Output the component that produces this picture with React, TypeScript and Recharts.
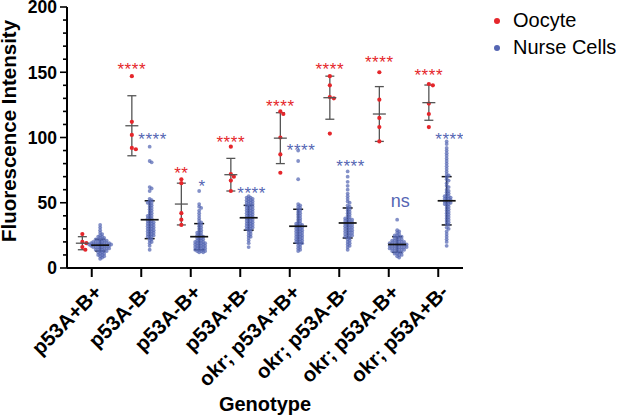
import React from 'react';
import { ComposedChart, Scatter, XAxis, YAxis, ErrorBar, Legend, Label } from 'recharts';

const CATEGORIES = [
  'p53A+B+',
  'p53A-B-',
  'p53A-B+',
  'p53A+B-',
  'okr; p53A+B+',
  'okr; p53A-B-',
  'okr; p53A-B+',
  'okr; p53A+B-',
];

const OOCYTE_VALUES = [
  [26, 20, 19, 16, 14],
  [147, 112, 102, 92, 91],
  [68, 65, 42, 37, 33],
  [93, 72, 70, 67, 59],
  [120, 118, 100, 87, 73],
  [147, 140, 131, 130, 103],
  [150, 129, 115, 108, 97],
  [141, 140, 126, 118, 108],
];

const NURSE_G1 = [33, 31, 29, 27, 26, 25, 24, 24, 23, 23, 22, 22, 22, 21, 21, 21, 20, 20, 20, 20, 19, 19, 19, 19, 19, 18, 18, 18, 18, 18, 18, 17, 17, 17, 17, 17, 16, 16, 16, 16, 15, 15, 15, 15, 14, 14, 14, 13, 13, 13, 12, 12, 11, 11, 10, 10, 9, 9, 8, 7];
const NURSE_G2 = [93, 82, 81, 62, 61, 59, 53, 52, 51, 50, 50, 49, 48, 47, 46, 45, 44, 43, 42, 41, 40, 40, 39, 38, 38, 37, 36, 36, 35, 35, 34, 34, 33, 33, 32, 32, 31, 31, 30, 30, 29, 29, 28, 28, 27, 27, 26, 26, 25, 25, 24, 24, 23, 22, 21, 20, 19, 17, 14];
const NURSE_G3 = [59, 49, 47, 46, 44, 42, 40, 38, 36, 35, 34, 33, 32, 31, 30, 29, 28, 27, 27, 26, 25, 25, 24, 24, 23, 23, 22, 22, 21, 21, 20, 20, 20, 19, 19, 19, 18, 18, 18, 17, 17, 17, 16, 16, 16, 15, 15, 15, 14, 14, 14, 13, 13, 13, 12, 12];
const NURSE_G4 = [55, 54, 54, 53, 53, 52, 52, 51, 51, 50, 50, 49, 49, 48, 48, 47, 47, 46, 46, 45, 45, 44, 44, 43, 43, 42, 42, 41, 41, 40, 40, 39, 39, 38, 38, 37, 37, 36, 36, 35, 35, 34, 34, 33, 33, 32, 32, 31, 31, 30, 30, 29, 28, 27, 26, 25, 24, 23, 21, 19, 16];
const NURSE_G5 = [90, 82, 68, 49, 48, 47, 46, 45, 44, 43, 42, 41, 40, 39, 38, 37, 36, 35, 34, 34, 33, 33, 32, 32, 31, 31, 30, 30, 29, 29, 28, 28, 27, 27, 26, 26, 25, 25, 24, 24, 23, 23, 22, 22, 21, 21, 20, 20, 19, 19, 18, 17, 16, 15, 14, 13];
const NURSE_G6 = [74, 70, 66, 63, 60, 57, 55, 53, 51, 50, 48, 47, 46, 45, 44, 43, 42, 41, 40, 39, 38, 38, 37, 37, 36, 36, 35, 35, 34, 34, 33, 33, 32, 32, 31, 31, 30, 30, 29, 29, 28, 28, 27, 27, 26, 26, 25, 25, 24, 24, 23, 22, 21, 20, 19, 18, 17, 16, 14];
const NURSE_G7 = [37, 29, 28, 27, 26, 25, 25, 24, 24, 23, 23, 22, 22, 21, 21, 21, 20, 20, 20, 19, 19, 19, 19, 18, 18, 18, 18, 17, 17, 17, 17, 16, 16, 16, 16, 15, 15, 15, 15, 14, 14, 14, 13, 13, 13, 12, 12, 11, 11, 10, 10, 9, 8];
const NURSE_G8 = [97, 95, 92, 90, 88, 86, 84, 82, 80, 78, 76, 74, 72, 71, 70, 68, 67, 65, 63, 62, 60, 59, 58, 57, 56, 55, 55, 54, 54, 53, 53, 52, 52, 51, 51, 50, 50, 49, 49, 48, 47, 46, 45, 44, 43, 42, 41, 40, 39, 38, 37, 36, 35, 34, 33, 31, 30, 28, 26, 24, 22, 20, 17];
const NURSE_VALUES = [NURSE_G1, NURSE_G2, NURSE_G3, NURSE_G4, NURSE_G5, NURSE_G6, NURSE_G7, NURSE_G8];

const OOCYTE_MEAN = [19, 109, 49, 71.5, 99.5, 130.5, 118, 126.7];
const OOCYTE_SD = [5, 23, 16, 12.5, 19.5, 16.5, 21, 13.5];
const NURSE_MEAN = [17.5, 37, 24, 38.5, 32, 34.5, 18, 51.5];
const NURSE_SD = [4.5, 14.5, 10, 9.5, 13, 11.5, 6, 18.5];

const OOCYTE_STARS = ['', '****', '**', '****', '****', '****', '****', '****'];
const OOCYTE_STAR_Y = [0, 156, 76.5, 100, 128, 155.7, 161.3, 151];
const NURSE_STARS = ['', '****', '*', '****', '****', '****', 'ns', '****'];
const NURSE_STAR_Y = [0, 102, 66, 61, 94, 82, 50.7, 102.5];

const Y_TICKS = [0, 10, 20, 30, 40, 50, 60, 70, 80, 90, 100, 110, 120, 130, 140, 150, 160, 170, 180, 190, 200];
const X_TICKS = CATEGORIES.map((_, i) => i + 0.5);

const RED = '#e5262b';
const BLUE = '#5566b3';
const FONT = '"Liberation Sans", Arial, Helvetica, sans-serif';

// layout helpers (pixels per data unit) used only to lay out the swarm
const X_PX = 396 / 8;
const Y_PX = 261 / 200;
const OOCYTE_SHIFT = -0.19;
const NURSE_SHIFT = 0.17;

function swarmOffsets(values: number[], d: number): number[] {
  const order = values.map((_, i) => i).sort((a, b) => values[b] - values[a]);
  const placed: { x: number; y: number }[] = [];
  const out: number[] = new Array(values.length).fill(0);
  const step = 0.5;
  for (const i of order) {
    const y = values[i] * Y_PX;
    let k = 0;
    let off = 0;
    while (true) {
      const n = Math.ceil(k / 2);
      off = k === 0 ? 0 : (k % 2 === 1 ? n : -n) * step;
      let ok = true;
      for (const p of placed) {
        const dy = p.y - y;
        if (Math.abs(dy) < d) {
          const dx = p.x - off;
          if (dx * dx + dy * dy < d * d) {
            ok = false;
            break;
          }
        }
      }
      if (ok) break;
      k++;
    }
    placed.push({ x: off, y });
    out[i] = off;
  }
  return out;
}

const oocytePoints = OOCYTE_VALUES.flatMap((vals, i) => {
  const offs = swarmOffsets(vals, 3.8);
  return vals.map((v, j) => ({ x: i + 0.5 + OOCYTE_SHIFT + offs[j] / X_PX, y: v }));
});
const nursePoints = NURSE_VALUES.flatMap((vals, i) => {
  const offs = swarmOffsets(vals, 2.3);
  return vals.map((v, j) => ({ x: i + 0.5 + NURSE_SHIFT + offs[j] / X_PX, y: v }));
});

const oocyteSummary = CATEGORIES.map((_, i) => ({ x: i + 0.5 + OOCYTE_SHIFT, y: OOCYTE_MEAN[i], err: OOCYTE_SD[i] }));
const nurseSummary = CATEGORIES.map((_, i) => ({ x: i + 0.5 + NURSE_SHIFT, y: NURSE_MEAN[i], err: NURSE_SD[i] }));

const oocyteStarData = CATEGORIES.map((_, i) => ({ x: i + 0.5 + OOCYTE_SHIFT, y: OOCYTE_STAR_Y[i], text: OOCYTE_STARS[i] })).filter((d) => d.text);
const nurseStarData = CATEGORIES.map((_, i) => ({ x: i + 0.5 + NURSE_SHIFT + 0.06, y: NURSE_STAR_Y[i], text: NURSE_STARS[i] })).filter((d) => d.text);

const RedDot = (p: any) => <circle cx={p.cx} cy={p.cy} r={2.1} fill={RED} />;
const BlueDot = (p: any) => <circle cx={p.cx} cy={p.cy} r={1.9} fill={BLUE} fillOpacity={0.72} />;

const MeanLine = (w: number, color: string, sw: number) => (p: any) => (
  <line x1={p.cx - w} x2={p.cx + w} y1={p.cy} y2={p.cy} stroke={color} strokeWidth={sw} />
);

const StarText = (color: string) => (p: any) => {
  const t = p.payload?.text ?? '';
  const isNs = t === 'ns';
  return (
    <text
      x={p.cx}
      y={p.cy}
      dy={isNs ? '0.3em' : '0.62em'}
      textAnchor="middle"
      fill={color}
      fontSize={isNs ? 18 : 17}
      fontFamily={FONT}
      letterSpacing={isNs ? 0 : 0.6}
    >
      {t}
    </text>
  );
};

const XTick = (props: any) => {
  const { x, y, payload } = props;
  const label = CATEGORIES[Math.floor(payload.value)];
  return (
    <g transform={`translate(${x + 1},${y + 4}) rotate(-45)`}>
      <text textAnchor="end" dy="0.72em" fontSize={20.5} fontWeight="bold" fontFamily={FONT} fill="#000">
        {label}
      </text>
    </g>
  );
};

const YTick = (props: any) => {
  const { x, y, payload } = props;
  const v = payload.value;
  const major = v % 50 === 0;
  const len = major ? 7 : 4;
  return (
    <g>
      <line x1={x - len} x2={x} y1={y} y2={y} stroke="#000" strokeWidth={1.6} />
      {major && (
        <text x={x - len - 3} y={y} dy="0.36em" textAnchor="end" fontSize={17.5} fontWeight="bold" fontFamily={FONT} fill="#000">
          {v}
        </text>
      )}
    </g>
  );
};

const LegendContent = () => (
  <div style={{ fontFamily: FONT, fontSize: 20, lineHeight: '27px', color: '#000' }}>
    {[
      { name: 'Oocyte', color: RED },
      { name: 'Nurse Cells', color: BLUE },
    ].map((it) => (
      <div key={it.name} style={{ display: 'flex', alignItems: 'center', whiteSpace: 'nowrap' }}>
        <span style={{ display: 'inline-block', width: 6, height: 6, borderRadius: 3, background: it.color, marginRight: 13 }} />
        <span>{it.name}</span>
      </div>
    ))}
  </div>
);

export default function App() {
  return (
    <div style={{ position: 'absolute', left: 0, top: 0, width: 617, height: 416, background: '#fff' }}>
      <ComposedChart width={617} height={416} margin={{ top: 7, right: 154, left: 0, bottom: 28 }}>
        <XAxis
          type="number"
          dataKey="x"
          domain={[0, 8]}
          ticks={X_TICKS}
          interval={0}
          allowDataOverflow
          height={120}
          tickSize={9}
          tick={<XTick />}
          axisLine={{ stroke: '#000', strokeWidth: 2 }}
          tickLine={{ stroke: '#000', strokeWidth: 2 }}
        >
          <Label
            content={(p: any) => {
              const vb = p.viewBox || { x: 67, y: 268, width: 396, height: 120 };
              return (
                <text x={vb.x + vb.width / 2} y={vb.y + vb.height + 23} textAnchor="middle" fontSize={20} fontWeight="bold" fontFamily={FONT} fill="#000">
                  Genotype
                </text>
              );
            }}
          />
        </XAxis>
        <YAxis
          type="number"
          dataKey="y"
          domain={[0, 200]}
          ticks={Y_TICKS}
          interval={0}
          width={67}
          tickSize={0}
          tickMargin={0}
          tickLine={false}
          tick={<YTick />}
          axisLine={{ stroke: '#000', strokeWidth: 2 }}
          allowDataOverflow
        >
          <Label
            content={(p: any) => {
              const vb = p.viewBox || { x: 0, y: 7, width: 67, height: 261 };
              const cx = vb.x + 16;
              const cy = vb.y + vb.height / 2 - 6.5;
              return (
                <text x={cx} y={cy} transform={`rotate(-90, ${cx}, ${cy})`} textAnchor="middle" fontSize={20.5} fontWeight="bold" fontFamily={FONT} fill="#000">
                  Fluorescence Intensity
                </text>
              );
            }}
          />
        </YAxis>
        <Legend
          layout="horizontal"
          verticalAlign="middle"
          align="center"
          content={<LegendContent />}
          wrapperStyle={{ left: 494, top: 7, width: 123, height: 60 }}
        />
        <Scatter name="Oocyte" data={oocytePoints} shape={RedDot} isAnimationActive={false} legendType="circle" fill={RED} />
        <Scatter name="Nurse Cells" data={nursePoints} shape={BlueDot} isAnimationActive={false} legendType="circle" fill={BLUE} />
        <Scatter data={oocyteSummary} shape={MeanLine(6.5, '#555', 1.3)} isAnimationActive={false} legendType="none">
          <ErrorBar dataKey="err" direction="y" width={4.5} stroke="#555" strokeWidth={1.3} isAnimationActive={false} />
        </Scatter>
        <Scatter data={nurseSummary} shape={MeanLine(9, '#111', 1.7)} isAnimationActive={false} legendType="none">
          <ErrorBar dataKey="err" direction="y" width={5} stroke="#111" strokeWidth={1.5} isAnimationActive={false} />
        </Scatter>
        <Scatter data={oocyteStarData} shape={StarText(RED)} isAnimationActive={false} legendType="none" />
        <Scatter data={nurseStarData} shape={StarText(BLUE)} isAnimationActive={false} legendType="none" />
      </ComposedChart>
    </div>
  );
}
